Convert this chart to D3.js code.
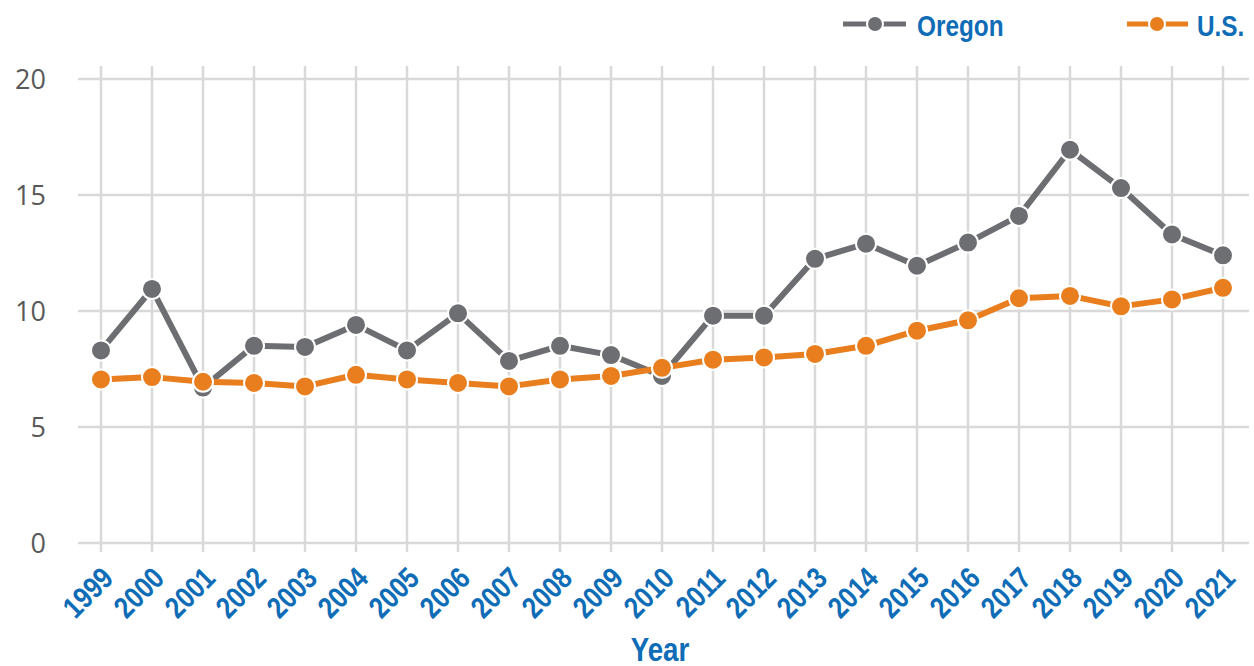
<!DOCTYPE html>
<html>
<head>
<meta charset="utf-8">
<script src="https://cdn.jsdelivr.net/npm/d3@7"></script>
<style>
  html, body { margin: 0; padding: 0; background: #fff; }
  svg { display: block; }
</style>
</head>
<body>
<svg id="chart" width="1254" height="666"></svg>
<script>
const years = ["1999","2000","2001","2002","2003","2004","2005","2006","2007","2008","2009","2010","2011","2012","2013","2014","2015","2016","2017","2018","2019","2020","2021"];
const oregon = [8.3, 10.95, 6.7, 8.5, 8.45, 9.4, 8.3, 9.9, 7.85, 8.5, 8.1, 7.2, 9.8, 9.8, 12.25, 12.9, 11.95, 12.95, 14.1, 16.95, 15.3, 13.3, 12.4];
const us = [7.05, 7.15, 6.95, 6.9, 6.75, 7.25, 7.05, 6.9, 6.75, 7.05, 7.2, 7.55, 7.9, 8.0, 8.15, 8.5, 9.15, 9.6, 10.55, 10.65, 10.2, 10.5, 11.0];
const yTicks = [0, 5, 10, 15, 20];
const seriesNames = ["Oregon", "U.S."];
const seriesColors = ["#6d6e71", "#e87e1e"];
const xTitle = "Year";

const svg = d3.select("#chart");
const blue = "#0f6cb6";
const gridColor = "#d9d9d9";
const boldFont = "'Liberation Sans', Arial, sans-serif";
const numFont = "'Open Sans', 'Liberation Sans', sans-serif";

const x = d3.scalePoint().domain(years).range([101, 1223]);
const y = d3.scaleLinear().domain([0, 20]).range([543, 79]);

// Horizontal gridlines
svg.append("g").selectAll("line").data(yTicks).join("line")
  .attr("x1", 78).attr("x2", 1249)
  .attr("y1", d => y(d)).attr("y2", d => y(d))
  .attr("stroke", gridColor).attr("stroke-width", 2.5);

// Vertical gridlines
svg.append("g").selectAll("line").data(years).join("line")
  .attr("x1", d => x(d)).attr("x2", d => x(d))
  .attr("y1", 66).attr("y2", 552)
  .attr("stroke", gridColor).attr("stroke-width", 2.5);

// Y-axis labels
svg.append("g").selectAll("text").data(yTicks).join("text")
  .attr("x", 46).attr("y", d => y(d))
  .attr("dy", "0.36em")
  .attr("text-anchor", "end")
  .attr("font-family", numFont)
  .attr("font-size", 27)
  .attr("fill", "#595959")
  .text(d => d);

// X-axis labels
svg.append("g").selectAll("text").data(years).join("text")
  .attr("transform", d => `translate(${x(d) + 14},580) rotate(-45) scale(0.84,1)`)
  .attr("text-anchor", "end")
  .attr("font-family", boldFont)
  .attr("font-weight", "bold")
  .attr("font-size", 30)
  .attr("fill", blue)
  .text(d => d);

// X title
svg.append("text")
  .attr("transform", "translate(660,661) scale(0.84,1)")
  .attr("text-anchor", "middle")
  .attr("font-family", boldFont)
  .attr("font-weight", "bold")
  .attr("font-size", 33)
  .attr("fill", blue)
  .text(xTitle);

// Series
const allSeries = [oregon, us];
const line = d3.line().x((d, i) => x(years[i])).y(d => y(d));
allSeries.forEach((vals, si) => {
  const g = svg.append("g");
  g.append("path").datum(vals)
    .attr("d", line)
    .attr("fill", "none")
    .attr("stroke", seriesColors[si])
    .attr("stroke-width", 6)
    .attr("stroke-linejoin", "round");
  g.selectAll("circle").data(vals).join("circle")
    .attr("cx", (d, i) => x(years[i]))
    .attr("cy", d => y(d))
    .attr("r", 10)
    .attr("fill", seriesColors[si])
    .attr("stroke", "#fff")
    .attr("stroke-width", 2);
});

// Legend
const legendPos = [{x1: 843, x2: 906, cx: 875, tx: 917}, {x1: 1127, x2: 1188, cx: 1157, tx: 1197}];
seriesNames.forEach((name, i) => {
  const p = legendPos[i];
  const g = svg.append("g");
  g.append("line").attr("x1", p.x1).attr("x2", p.x2).attr("y1", 24).attr("y2", 24)
    .attr("stroke", seriesColors[i]).attr("stroke-width", 5);
  g.append("circle").attr("cx", p.cx).attr("cy", 24).attr("r", 8)
    .attr("fill", seriesColors[i]).attr("stroke", "#fff").attr("stroke-width", 2);
  g.append("text")
    .attr("transform", `translate(${p.tx},36) scale(0.84,1)`)
    .attr("font-family", boldFont)
    .attr("font-weight", "bold")
    .attr("font-size", 29)
    .attr("fill", blue)
    .text(name);
});
</script>
</body>
</html>
